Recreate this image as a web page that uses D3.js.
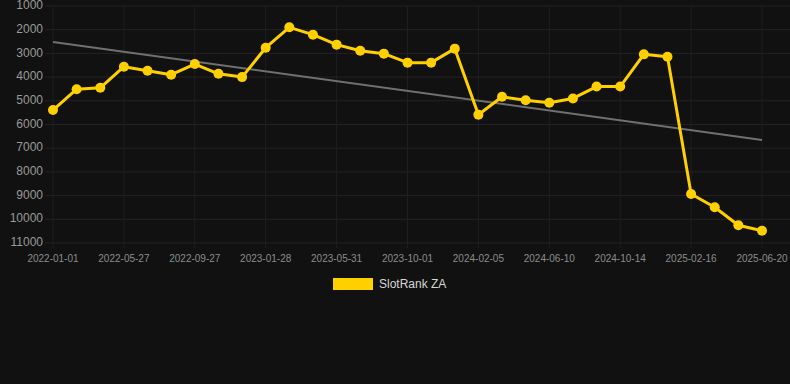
<!DOCTYPE html>
<html>
<head>
<meta charset="utf-8">
<script src="https://cdn.jsdelivr.net/npm/d3@7"></script>
<style>
  html, body { margin: 0; padding: 0; background: #111111; }
  svg { display: block; font-family: "Liberation Sans", Arial, Helvetica, sans-serif; }
</style>
</head>
<body>
<div id="chart"></div>
<script>
// Labelled ticks (every third point of the series)
const tickLabels = ['2022-01-01', '2022-05-27', '2022-09-27', '2023-01-28', '2023-05-31',
  '2023-10-01', '2024-02-05', '2024-06-10', '2024-10-14', '2025-02-16', '2025-06-20'];
const tickEvery = 3;

// SlotRank ZA rank, one value per point
const rankValues = [5390, 4510, 4450, 3560, 3730, 3900, 3450, 3860, 4000, 2760, 1900,
  2210, 2630, 2890, 3010, 3390, 3390, 2800, 5590, 4830, 4980, 5080, 4900, 4400, 4400,
  3040, 3140, 8930, 9490, 10250, 10480];

// Trend line, first and last value
const trendValues = [2520, 6650];

const yTicks = [1000, 2000, 3000, 4000, 5000, 6000, 7000, 8000, 9000, 10000, 11000];

const W = 790, H = 384;
const plotL = 53, plotR = 762, gridR = 790, plotT = 6, plotB = 243;
const YELLOW = '#ffd000';

const svg = d3.select('#chart').append('svg').attr('width', W).attr('height', H);
svg.append('rect').attr('width', W).attr('height', H).attr('fill', '#111111');

const x = d3.scaleLinear().domain([0, rankValues.length - 1]).range([plotL, plotR]);
const y = d3.scaleLinear().domain([1000, 11000]).range([plotT, plotB]);

// ── Grid ────────────────────────────────────────────────────────────────
const grid = svg.append('g');
yTicks.forEach(v => {
  grid.append('line')
    .attr('x1', plotL - 8).attr('x2', gridR)
    .attr('y1', y(v)).attr('y2', y(v))
    .attr('stroke', '#232323').attr('stroke-width', 1);
});
tickLabels.forEach((t, i) => {
  const cx = x(i * tickEvery);
  grid.append('line')
    .attr('x1', cx).attr('x2', cx)
    .attr('y1', plotT).attr('y2', plotB + 5)
    .attr('stroke', '#1f1f1f').attr('stroke-width', 1);
});

// ── Y axis labels ───────────────────────────────────────────────────────
svg.append('g').selectAll('text').data(yTicks).join('text')
  .attr('x', 43).attr('y', d => y(d))
  .attr('text-anchor', 'end').attr('dominant-baseline', 'middle')
  .attr('font-size', 12).attr('fill', '#9a9a9a')
  .text(d => d);

// ── X axis labels ───────────────────────────────────────────────────────
svg.append('g').selectAll('text').data(tickLabels).join('text')
  .attr('x', (d, i) => x(i * tickEvery)).attr('y', 259)
  .attr('text-anchor', 'middle').attr('dominant-baseline', 'middle')
  .attr('font-size', 10).attr('fill', '#8c8c8c')
  .text(d => d);

// ── Trend line ──────────────────────────────────────────────────────────
svg.append('line')
  .attr('x1', x(0)).attr('x2', x(rankValues.length - 1))
  .attr('y1', y(trendValues[0])).attr('y2', y(trendValues[1]))
  .attr('stroke', '#707070').attr('stroke-width', 2);

// ── Series ──────────────────────────────────────────────────────────────
const line = d3.line().x((d, i) => x(i)).y(d => y(d));
svg.append('path')
  .attr('d', line(rankValues))
  .attr('fill', 'none').attr('stroke', YELLOW).attr('stroke-width', 3)
  .attr('stroke-linejoin', 'round');

svg.append('g').selectAll('circle').data(rankValues).join('circle')
  .attr('cx', (d, i) => x(i)).attr('cy', d => y(d))
  .attr('r', 5).attr('fill', YELLOW);

// ── Legend ──────────────────────────────────────────────────────────────
svg.append('rect')
  .attr('x', 333).attr('y', 278).attr('width', 40).attr('height', 12)
  .attr('fill', YELLOW);
svg.append('text')
  .attr('x', 379).attr('y', 284.5)
  .attr('dominant-baseline', 'middle')
  .attr('font-size', 12).attr('fill', '#d6d6d6')
  .text('SlotRank ZA');
</script>
</body>
</html>
